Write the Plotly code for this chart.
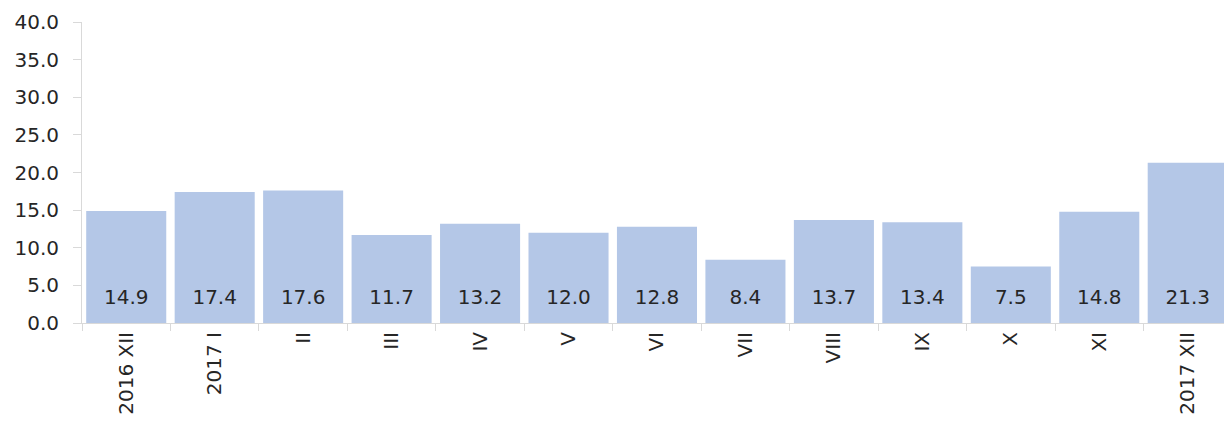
import plotly.graph_objects as go

categories = ["2016 XII", "2017 I", "II", "III", "IV", "V", "VI", "VII",
              "VIII", "IX", "X", "XI", "2017 XII"]
values = [14.9, 17.4, 17.6, 11.7, 13.2, 12.0, 12.8, 8.4, 13.7, 13.4, 7.5, 14.8, 21.3]

bar_color = "#b4c7e7"
axis_color = "#d9d9d9"
text_color = "#262626"
font_family = "DejaVu Sans"

fig = go.Figure()

fig.add_trace(go.Bar(
    x=categories,
    y=values,
    marker=dict(color=bar_color, line=dict(width=0)),
    showlegend=False,
    hoverinfo="skip",
))

# value labels near the base of each bar
fig.add_trace(go.Scatter(
    x=categories,
    y=[3.2] * len(values),
    mode="text",
    text=[f"{v:.1f}" for v in values],
    textposition="middle center",
    textfont=dict(family=font_family, size=20, color=text_color),
    showlegend=False,
    hoverinfo="skip",
    cliponaxis=False,
))

fig.update_layout(
    width=1224,
    height=423,
    margin=dict(l=82, r=0, t=22, b=100),
    plot_bgcolor="white",
    paper_bgcolor="white",
    bargap=0.095,
    xaxis=dict(
        type="category",
        range=[-0.5, 12.41],
        automargin=False,
        showgrid=False,
        zeroline=False,
        showline=True,
        linecolor=axis_color,
        linewidth=1,
        ticks="outside",
        tickson="boundaries",
        ticklen=7,
        tickcolor=axis_color,
        tickangle=-90,
        tickfont=dict(family=font_family, size=20, color=text_color),
    ),
    yaxis=dict(
        range=[0, 40],
        dtick=5,
        tickformat=".1f",
        automargin=False,
        showgrid=False,
        zeroline=False,
        showline=True,
        linecolor=axis_color,
        linewidth=1,
        ticks="outside",
        ticklen=8,
        tickcolor=axis_color,
        ticklabelstandoff=10,
        tickfont=dict(family=font_family, size=20, color=text_color),
    ),
)

# drop the default page margin so the figure fills the window
fig.write_html(
    "out.html",
    config={"displayModeBar": False},
    post_script="document.body.style.margin='0';document.body.style.overflow='hidden';",
)
